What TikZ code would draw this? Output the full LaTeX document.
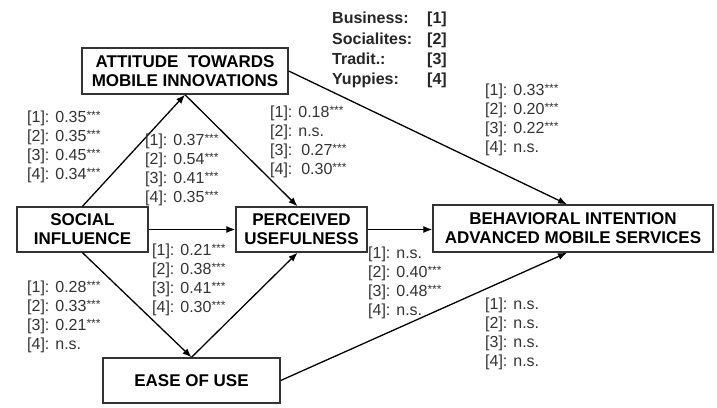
\documentclass[tikz,border=0pt]{standalone}
\usepackage{fontspec}
\setmainfont{Liberation Sans}
\usetikzlibrary{positioning,arrows.meta,calc}
\tikzset{
  % construct box
  construct/.style = {rectangle, draw=black!80, line width=1.4pt, align=center,
                      inner sep=2pt, font=\fontsize{17}{19}\selectfont\bfseries},
  % coefficient block next to a path
  coef/.style      = {anchor=north west, align=left, inner sep=0pt, text=black!80,
                      font=\fontsize{16}{19}\selectfont},
  % group legend
  legend/.style    = {anchor=north west, align=left, inner sep=0pt, text=black!85,
                      font=\fontsize{16}{20.3}\selectfont\bfseries},
  % structural path
  effect/.style    = {-{Latex[length=9pt,width=7pt]}, line width=1.3pt, black},
}
\newcommand{\sig}{\raisebox{3.5pt}{\fontsize{12}{12}\selectfont ***}}

\begin{document}
\begin{tikzpicture}[x=1pt, y=-1pt]
  \useasboundingbox (0,0) rectangle (717,407);

  % --- constructs ---
  \node[construct, minimum width=206pt, minimum height=46pt] (att) at (185,71)
       {ATTITUDE\ \ TOWARDS\\MOBILE INNOVATIONS};
  \node[construct, minimum width=131pt, minimum height=45pt] (si) at (82.5,229.5)
       {SOCIAL\\INFLUENCE};
  \node[construct, minimum width=131pt, minimum height=45pt] (pu) at (301.5,229.5)
       {PERCEIVED\\USEFULNESS};
  \node[construct, minimum width=280pt, minimum height=47pt] (bi) at (573,228.5)
       {BEHAVIORAL INTENTION\\ADVANCED MOBILE SERVICES};
  \node[construct, minimum width=177pt, minimum height=45pt] (eou) at (191.5,380.5)
       {EASE OF USE};

  % --- legend of the segments ---
  \node[legend] (groups) at (332,12)
       {\makebox[95pt][l]{Business:}{[1]}\\
        \makebox[95pt][l]{Socialites:}{[2]}\\
        \makebox[95pt][l]{Tradit.:}{[3]}\\
        \makebox[95pt][l]{Yuppies:}{[4]}};

  % --- paths ---
  \draw[effect] (si.north) -- (att.south);
  \draw[effect] (att.south) -- ([xshift=-4pt]pu.north);
  \draw[effect] (att.east) -- ([xshift=-6pt]bi.north);
  \draw[effect] (si.east) -- (pu.west);
  \draw[effect] (pu.east) -- (pu.east-|bi.west);
  \draw[effect] (si.south) -- (eou.north);
  \draw[effect] (eou.north) -- ([xshift=-4pt]pu.south);
  \draw[effect] (eou.east) -- ([xshift=-6pt]bi.south);

  % --- coefficients (one line per segment) ---
  \node[coef] (c-si-att) at (27,111)
       {{[1]}: 0.35\sig\\{[2]}: 0.35\sig\\{[3]}: 0.45\sig\\{[4]}: 0.34\sig};
  \node[coef] (c-si-pu) at (145,134)
       {{[1]}: 0.37\sig\\{[2]}: 0.54\sig\\{[3]}: 0.41\sig\\{[4]}: 0.35\sig};
  \node[coef] (c-att-pu) at (270,106)
       {{[1]}: 0.18\sig\\{[2]}: n.s.\\{[3]}:\ \ 0.27\sig\\{[4]}:\ \ 0.30\sig};
  \node[coef] (c-att-bi) at (485,84)
       {{[1]}: 0.33\sig\\{[2]}: 0.20\sig\\{[3]}: 0.22\sig\\{[4]}: n.s.};
  \node[coef] (c-eou-pu) at (152,244)
       {{[1]}: 0.21\sig\\{[2]}: 0.38\sig\\{[3]}: 0.41\sig\\{[4]}: 0.30\sig};
  \node[coef] (c-si-eou) at (27,281)
       {{[1]}: 0.28\sig\\{[2]}: 0.33\sig\\{[3]}: 0.21\sig\\{[4]}: n.s.};
  \node[coef] (c-pu-bi) at (368,247)
       {{[1]}: n.s.\\{[2]}: 0.40\sig\\{[3]}: 0.48\sig\\{[4]}: n.s.};
  \node[coef] (c-eou-bi) at (485,298)
       {{[1]}: n.s.\\{[2]}: n.s.\\{[3]}: n.s.\\{[4]}: n.s.};

\end{tikzpicture}
\end{document}
